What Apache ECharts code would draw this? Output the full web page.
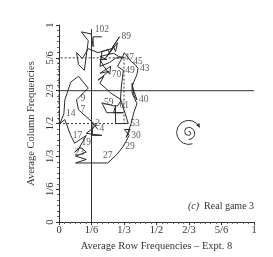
<!DOCTYPE html>
<html><head><meta charset="utf-8">
<script src="https://cdn.jsdelivr.net/npm/echarts@6/dist/echarts.min.js"></script>
<style>html,body{margin:0;padding:0;background:#fff}#c{width:273px;height:257px}</style>
</head><body><div id="c"></div>
<script>
const tickLabels = ['0','1/6','1/3','1/2','2/3','5/6','1'];
// Average row frequency (x) by period 1..102
const rowFreq = [0.20,0.175,0.17,0.22,0.14,0.19,0.10,0.09,0.10,0.15,
0.10,0.06,0.03,0.025,0.005,0.03,0.06,0.08,0.14,0.10,
0.08,0.11,0.14,0.085,0.14,0.085,0.25,0.297,0.33,0.36,
0.335,0.365,0.345,0.37,0.385,0.40,0.375,0.375,0.385,0.40,
0.375,0.40,0.405,0.39,0.37,0.335,0.325,0.30,0.33,0.32,
0.315,0.34,0.355,0.29,0.29,0.28,0.33,0.245,0.22,0.28,
0.30,0.32,0.265,0.21,0.23,0.20,0.255,0.21,0.265,0.26,
0.23,0.21,0.245,0.21,0.28,0.305,0.335,0.29,0.26,0.21,
0.22,0.25,0.26,0.245,0.28,0.29,0.30,0.245,0.31,0.27,
0.20,0.15,0.12,0.09,0.10,0.13,0.15,0.115,0.165,0.175,
0.175,0.22];
// Average column frequency (y) by period 1..102
const colFreq = [0.47,0.50,0.44,0.44,0.45,0.49,0.57,0.62,0.625,0.68,
0.74,0.71,0.62,0.55,0.50,0.52,0.44,0.40,0.44,0.37,
0.355,0.38,0.355,0.335,0.318,0.30,0.30,0.343,0.385,0.44,
0.47,0.47,0.43,0.50,0.56,0.60,0.655,0.705,0.64,0.62,
0.69,0.75,0.78,0.80,0.815,0.86,0.835,0.79,0.77,0.69,
0.62,0.55,0.50,0.50,0.59,0.555,0.555,0.555,0.605,0.59,
0.59,0.62,0.655,0.705,0.74,0.72,0.765,0.755,0.79,0.75,
0.79,0.825,0.825,0.84,0.857,0.84,0.835,0.832,0.81,0.79,
0.865,0.875,0.857,0.84,0.89,0.865,0.91,0.84,0.94,0.88,
0.86,0.88,0.83,0.86,0.80,0.77,0.92,0.965,0.955,0.89,
0.94,0.94];
const labeledPeriods = [2,4,7,9,14,17,19,23,27,29,30,40,43,45,47,49,53,59,61,70,89,102];
const solidVertical = [[1/6,0],[1/6,0.98]];
const solidHorizontal = [[0,2/3],[1,2/3]];
const dashedBox = [[0,1/2],[1/3,1/2],[1/3,5/6],[0,5/6],[0,1/2]];
const spiralCenter = [0.665,0.455];
const panelLabel = 'Real game 3';

const labelPos = {2:'right',4:'top',7:'right',9:'right',14:'right',17:'right',19:'bottom',23:'left',27:'top',29:'right',30:'right',40:'right',43:'right',45:'right',47:'right',49:'right',53:'right',59:'right',61:'right',70:'right',89:'right',102:'top'};

const FONT = 'Liberation Serif';
const INK = '#333';
const path = rowFreq.map((x,i)=>[x,colFreq[i]]);
const chart = echarts.init(document.getElementById('c'),null,{renderer:'canvas'});
const axisCommon = {
  type:'value',min:0,max:1,interval:1/6,
  axisLine:{show:true,lineStyle:{color:INK,width:1}},
  axisTick:{show:true,length:3,lineStyle:{color:INK}},
  minorTick:{show:true,splitNumber:6,length:2,lineStyle:{color:'#666'}},
  splitLine:{show:false},
  nameLocation:'middle',
  nameTextStyle:{fontFamily:FONT,fontSize:10.5,color:INK}
};
const refLine = (data,type)=>({type:'line',data,symbol:'none',silent:true,
  lineStyle:{color:INK,width:1,type:type},z:1});
chart.setOption({
  animation:false,
  grid:{left:59,right:19,top:25,bottom:34},
  xAxis:Object.assign({},axisCommon,{
    name:'Average Row Frequencies \u2013 Expt. 8',nameGap:17,
    axisLabel:{formatter:v=>tickLabels[Math.round(v*6)],fontFamily:FONT,fontSize:10.5,color:INK,margin:3}
  }),
  yAxis:Object.assign({},axisCommon,{
    name:'Average Column Frequencies',nameGap:18,
    axisLabel:{formatter:v=>tickLabels[Math.round(v*6)],fontFamily:FONT,fontSize:10.5,color:INK,margin:3,rotate:90}
  }),
  title:{text:'{i|(c)} {n|'+panelLabel+'}',left:183,top:192,
    textStyle:{fontWeight:'normal',rich:{
      i:{fontFamily:FONT,fontSize:10,fontStyle:'italic',fontWeight:'normal',color:INK},
      n:{fontFamily:FONT,fontSize:10,fontWeight:'normal',color:INK}}}},
  series:[
    refLine(solidVertical,'solid'),
    refLine(solidHorizontal,'solid'),
    refLine(dashedBox,[2,2]),
    {type:'line',data:path,symbol:'none',lineStyle:{color:'#2a2a2a',width:1},z:3},
    {type:'scatter',symbolSize:0,z:4,
     data:labeledPeriods.map(p=>({value:path[p-1],name:String(p),
       label:{show:true,position:labelPos[p]||'right',distance:2,formatter:String(p),
         fontFamily:FONT,fontSize:9.5,color:INK}}))}
  ]
});
const c = chart.convertToPixel({gridIndex:0},spiralCenter);
const PI = Math.PI;
const st = {fill:null,stroke:INK,lineWidth:1};
chart.setOption({graphic:[{type:'group',x:c[0],y:c[1],silent:true,children:[
  {type:'arc',shape:{cx:0,cy:1,r:2,startAngle:-PI/2,endAngle:PI/2,clockwise:true},style:st},
  {type:'arc',shape:{cx:0,cy:-1,r:4,startAngle:PI/2,endAngle:3*PI/2,clockwise:true},style:st},
  {type:'arc',shape:{cx:0,cy:1,r:6,startAngle:-PI/2,endAngle:PI/2,clockwise:true},style:st},
  {type:'arc',shape:{cx:0,cy:0,r:12,startAngle:1.25,endAngle:2*PI-0.54,clockwise:true},style:st},
  {type:'polygon',shape:{points:[[11.3,-4.5],[10.7,-9.3],[7.3,-7.3]]},style:{fill:INK}}
]}]});
</script></body></html>
